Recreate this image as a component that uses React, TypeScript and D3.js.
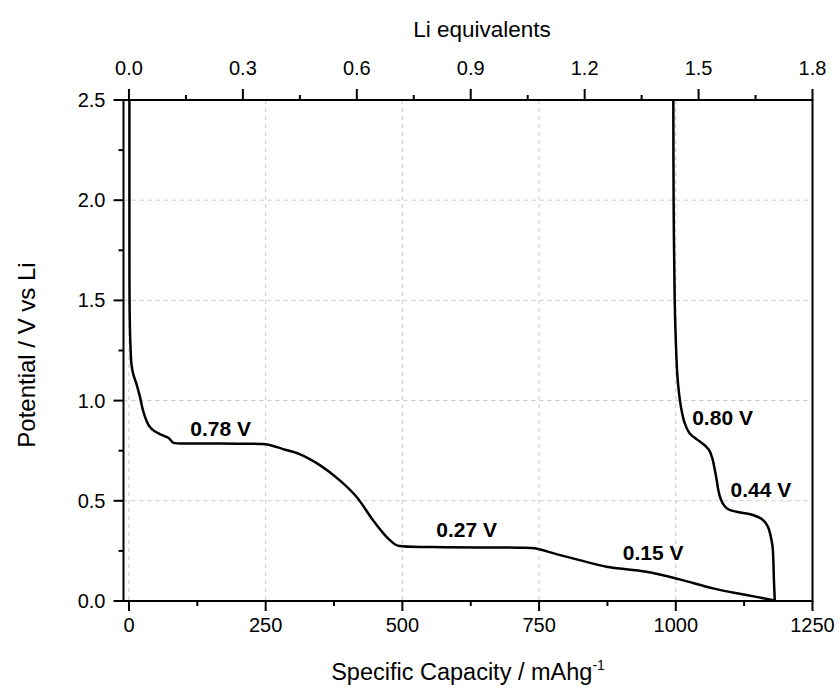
import React from "react";
import * as d3 from "d3";

// ---- data ----
const dischargeCap = [0.8, 0.8, 0.9, 1.2, 1.8, 2.8, 4.4, 8, 13.5, 20, 25.6, 32, 37.9, 43, 47, 55, 62, 68.4, 74, 78, 81.7, 129, 200, 245, 262, 281.6, 312, 349, 385, 416, 446, 466, 477, 487, 495, 556, 714, 742, 781.6, 824, 873, 946, 1007, 1068, 1129, 1181];
const dischargeV = [2.5, 2.0, 1.6, 1.45, 1.35, 1.27, 1.185, 1.13, 1.085, 1.02, 0.952, 0.9, 0.869, 0.855, 0.847, 0.835, 0.826, 0.819, 0.81, 0.797, 0.789, 0.786, 0.785, 0.783, 0.775, 0.758, 0.733, 0.678, 0.603, 0.52, 0.404, 0.335, 0.304, 0.282, 0.274, 0.269, 0.266, 0.263, 0.234, 0.204, 0.171, 0.146, 0.108, 0.063, 0.03, 0.003];

const chargeCap = [1181, 1179.5, 1177, 1173, 1168.6, 1159.5, 1141, 1111, 1096, 1088, 1082, 1078, 1075, 1071, 1067, 1062, 1055, 1044, 1025.6, 1016, 1010, 1006, 1003, 1000, 998, 996, 995.5];
const chargeV = [0.003, 0.1, 0.271, 0.33, 0.37, 0.404, 0.429, 0.445, 0.458, 0.478, 0.51, 0.55, 0.6, 0.66, 0.71, 0.748, 0.772, 0.796, 0.836, 0.89, 0.96, 1.035, 1.12, 1.3, 1.5, 2.0, 2.5];

const xTicks = [0, 250, 500, 750, 1000, 1250];
const xMinor = [125, 375, 625, 875, 1125];
const yTicks = [0, 0.5, 1.0, 1.5, 2.0, 2.5];
const yMinor = [0.25, 0.75, 1.25, 1.75, 2.25];
const liTicks = [0, 0.3, 0.6, 0.9, 1.2, 1.5, 1.8];
const liMinor = [0.15, 0.45, 0.75, 1.05, 1.35, 1.65];
const gridX = [0, 250, 500, 750, 1000];
const gridY = [0.5, 1.0, 1.5, 2.0];

const annLabels = ["0.78 V", "0.27 V", "0.15 V", "0.80 V", "0.44 V"];
const annCap = [112, 562, 903, 1030, 1100];
const annV = [0.825, 0.32, 0.205, 0.876, 0.52];

const FONT = "Arial, 'Liberation Sans', Helvetica, sans-serif";

export default function App() {
  const W = 839, H = 688;
  const L = 123.5, R = 812.5, T = 100, B = 601;
  const x = d3.scaleLinear().domain([-10, 1250]).range([L, R]);
  const y = d3.scaleLinear().domain([0, 2.5]).range([B, T]);
  const xLi = d3.scaleLinear().domain([(-10 * 1.8) / 1250, 1.8]).range([L, R]);

  const line = d3
    .line<[number, number]>()
    .x((d) => x(d[0]))
    .y((d) => y(d[1]))
    .curve(d3.curveCatmullRom.alpha(0.5));

  const dis: [number, number][] = dischargeCap.map((c, i) => [c, dischargeV[i]]);
  const chg: [number, number][] = chargeCap.map((c, i) => [c, chargeV[i]]);

  const tickFs = 20;
  return (
    <svg
      width={W}
      height={H}
      style={{ position: "absolute", left: 0, top: 0, background: "#fff" }}
      fontFamily={FONT}
    >
      <rect x={0} y={0} width={W} height={H} fill="#fff" />
      {/* grid */}
      {gridX.map((v) => (
        <line key={"gx" + v} x1={x(v)} x2={x(v)} y1={T} y2={B} stroke="#c8c8c8" strokeWidth={1} strokeDasharray="4,4" />
      ))}
      {gridY.map((v) => (
        <line key={"gy" + v} x1={L} x2={R} y1={y(v)} y2={y(v)} stroke="#c8c8c8" strokeWidth={1} strokeDasharray="4,4" />
      ))}

      {/* curves */}
      <path d={line(dis) || ""} fill="none" stroke="#000" strokeWidth={2.5} strokeLinejoin="round" />
      <path d={line(chg) || ""} fill="none" stroke="#000" strokeWidth={2.5} strokeLinejoin="round" />

      {/* frame */}
      <rect x={L} y={T} width={R - L} height={B - T} fill="none" stroke="#000" strokeWidth={2} />

      {/* bottom axis */}
      {xTicks.map((v) => (
        <g key={"xt" + v}>
          <line x1={x(v)} x2={x(v)} y1={B} y2={B + 10} stroke="#000" strokeWidth={2} />
          <text x={x(v)} y={B + 31} textAnchor="middle" fontSize={tickFs}>{v}</text>
        </g>
      ))}
      {xMinor.map((v) => (
        <line key={"xm" + v} x1={x(v)} x2={x(v)} y1={B} y2={B + 5} stroke="#000" strokeWidth={2} />
      ))}

      {/* top axis */}
      {liTicks.map((v) => (
        <g key={"lt" + v}>
          <line x1={xLi(v)} x2={xLi(v)} y1={T} y2={T - 11} stroke="#000" strokeWidth={2} />
          <text x={xLi(v)} y={T - 25} textAnchor="middle" fontSize={tickFs}>{v.toFixed(1)}</text>
        </g>
      ))}
      {liMinor.map((v) => (
        <line key={"lm" + v} x1={xLi(v)} x2={xLi(v)} y1={T} y2={T - 5} stroke="#000" strokeWidth={2} />
      ))}

      {/* left axis */}
      {yTicks.map((v) => (
        <g key={"yt" + v}>
          <line x1={L} x2={L - 10} y1={y(v)} y2={y(v)} stroke="#000" strokeWidth={2} />
          <text x={L - 18} y={y(v) + 7} textAnchor="end" fontSize={tickFs}>{v.toFixed(1)}</text>
        </g>
      ))}
      {yMinor.map((v) => (
        <line key={"ym" + v} x1={L} x2={L - 5} y1={y(v)} y2={y(v)} stroke="#000" strokeWidth={2} />
      ))}

      {/* titles */}
      <text x={482} y={37} textAnchor="middle" fontSize={22.5}>Li equivalents</text>
      <text x={(L + R) / 2} y={680} textAnchor="middle" fontSize={23.5}>
        Specific Capacity / mAhg<tspan fontSize={14} dy={-10}>-1</tspan>
      </text>
      <text transform={`translate(35, 355) rotate(-90)`} textAnchor="middle" fontSize={24}>
        Potential / V vs Li
      </text>

      {/* annotations */}
      {annLabels.map((t, i) => (
        <text key={t} x={x(annCap[i])} y={y(annV[i])} fontSize={21} fontWeight="bold" textAnchor="start">
          {t}
        </text>
      ))}
    </svg>
  );
}
